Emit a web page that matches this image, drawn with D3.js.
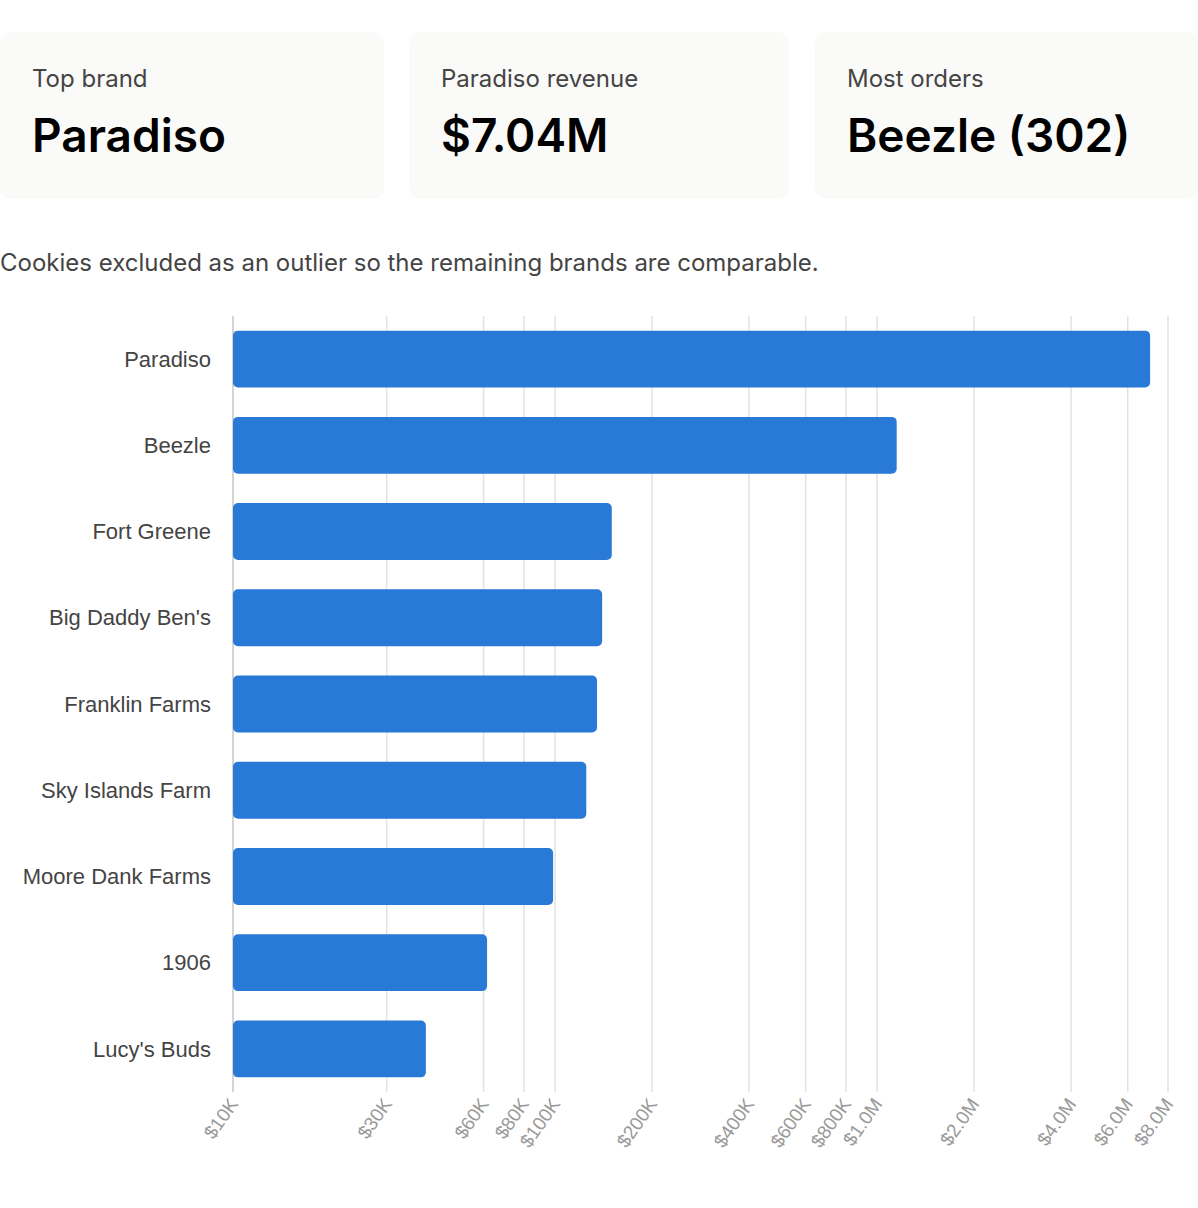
<!DOCTYPE html>
<html><head><meta charset="utf-8">
<script src="https://cdn.jsdelivr.net/npm/d3@7"></script>
<style>
body{margin:0;background:#fff;font-family:Inter,"Noto Sans",sans-serif;}
.card{position:absolute;top:32px;height:167px;background:#fafaf8;border-radius:12px;box-sizing:border-box;padding:32px 32px;}
.card .t{font-size:24px;color:#444;}
.card .v{font-size:46px;font-weight:600;color:#000;margin-top:14px;}
.note{position:absolute;top:248px;left:0;font-size:24px;color:#444;}
svg{position:absolute;top:0;left:0;}
</style></head><body>
<div class="card" style="left:0;width:384px"><div class="t">Top brand</div><div class="v">Paradiso</div></div>
<div class="card" style="left:409px;width:380px"><div class="t">Paradiso revenue</div><div class="v">$7.04M</div></div>
<div class="card" style="left:815px;width:383px"><div class="t">Most orders</div><div class="v">Beezle (302)</div></div>
<div class="note">Cookies excluded as an outlier so the remaining brands are comparable.</div>
<script>
var brands = ["Paradiso","Beezle","Fort Greene","Big Daddy Ben's","Franklin Farms","Sky Islands Farm","Moore Dank Farms","1906","Lucy's Buds"];
var revenue = [7040000,1150000,150000,140000,135000,125000,98600,61500,39700];
var ticks = [10000,30000,60000,80000,100000,200000,400000,600000,800000,1000000,2000000,4000000,6000000,8000000];

var svg = d3.select("body").append("svg").attr("width",1198).attr("height",1208);
var x = d3.scaleLog().domain([10000,8000000]).range([233,1168]);
var y = d3.scaleBand().domain(brands).range([316,1092]).paddingInner(0.34).paddingOuter(0.17);

function fmt(v){ return v>=1e6 ? "$"+(v/1e6).toFixed(1)+"M" : "$"+(v/1000)+"K"; }

svg.append("g").selectAll("line").data(ticks).enter().append("line")
  .attr("x1",function(d){return x(d);}).attr("x2",function(d){return x(d);})
  .attr("y1",316).attr("y2",1092).attr("stroke","#e2e2e2").attr("stroke-width",1.5);
svg.append("line").attr("x1",233).attr("x2",233).attr("y1",316).attr("y2",1092).attr("stroke","#ccc").attr("stroke-width",1.5);

svg.append("g").selectAll("rect").data(brands).enter().append("rect")
  .attr("x",233).attr("y",function(d){return y(d);})
  .attr("width",function(d,i){return x(revenue[i])-233;})
  .attr("height",y.bandwidth()).attr("rx",5).attr("fill","#2979d6");

svg.append("g").selectAll("text").data(brands).enter().append("text")
  .attr("x",211).attr("y",function(d){return y(d)+y.bandwidth()/2;})
  .attr("dy","0.35em").attr("text-anchor","end")
  .attr("font-family","Liberation Sans, Arial, sans-serif").attr("font-size",22).attr("fill","#444")
  .text(function(d){return d;});

svg.append("g").selectAll("text").data(ticks).enter().append("text")
  .attr("transform",function(d){return "translate("+(x(d)+6)+",1104) rotate(-55)";})
  .attr("text-anchor","end").attr("font-family","Liberation Sans, Arial, sans-serif")
  .attr("font-size",19).attr("fill","#999").text(fmt);
</script>
</body></html>
